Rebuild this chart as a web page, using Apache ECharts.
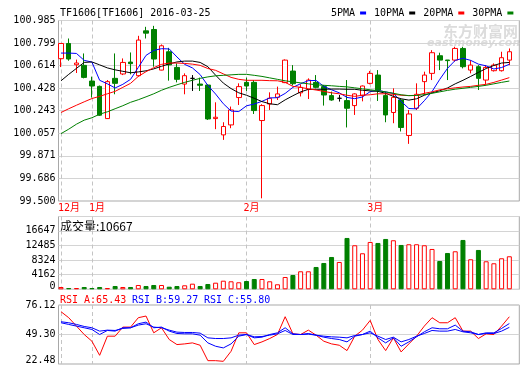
<!DOCTYPE html>
<html><head><meta charset="utf-8">
<script src="https://cdn.jsdelivr.net/npm/echarts@6/dist/echarts.min.js"></script>
<style>html,body{margin:0;padding:0;background:#fff}#c{width:520px;height:365px}</style>
</head><body><div id="c"></div>
<script>
// ---- data ----
const dates = ['2015-12-28','2015-12-29','2015-12-30','2015-12-31',
 '2016-01-04','2016-01-05','2016-01-06','2016-01-07','2016-01-08','2016-01-11','2016-01-12','2016-01-13','2016-01-14','2016-01-15',
 '2016-01-18','2016-01-19','2016-01-20','2016-01-21','2016-01-22','2016-01-25','2016-01-26','2016-01-27','2016-01-28','2016-01-29',
 '2016-02-01','2016-02-02','2016-02-03','2016-02-04','2016-02-05','2016-02-15','2016-02-16','2016-02-17','2016-02-18','2016-02-19',
 '2016-02-22','2016-02-23','2016-02-24','2016-02-25','2016-02-26','2016-02-29',
 '2016-03-01','2016-03-02','2016-03-03','2016-03-04','2016-03-07','2016-03-08','2016-03-09','2016-03-10','2016-03-11',
 '2016-03-14','2016-03-15','2016-03-16','2016-03-17','2016-03-18','2016-03-21','2016-03-22','2016-03-23','2016-03-24','2016-03-25'];
const open  = [100.671,100.796,100.621,100.616,100.487,100.443,100.178,100.509,100.545,100.643,100.531,100.900,100.911,100.577,100.728,100.599,100.462,100.509,100.462,100.454,100.178,100.044,100.126,100.351,100.476,100.476,100.162,100.298,100.353,100.474,100.569,100.390,100.419,100.476,100.441,100.367,100.345,100.326,100.285,100.370,100.468,100.536,100.367,100.228,100.331,100.039,100.263,100.482,100.550,100.695,100.660,100.659,100.755,100.577,100.605,100.495,100.572,100.572,100.659];
const close = [100.796,100.668,100.635,100.517,100.446,100.206,100.482,100.468,100.640,100.630,100.824,100.881,100.668,100.777,100.620,100.501,100.531,100.509,100.452,100.175,100.189,100.113,100.249,100.441,100.446,100.244,100.285,100.345,100.381,100.659,100.465,100.435,100.495,100.435,100.372,100.331,100.345,100.263,100.381,100.446,100.550,100.413,100.208,100.353,100.105,100.216,100.378,100.536,100.720,100.659,100.655,100.755,100.605,100.618,100.509,100.599,100.618,100.679,100.728];
const low   = [100.602,100.654,100.553,100.509,100.351,100.200,100.175,100.378,100.536,100.542,100.523,100.837,100.605,100.575,100.490,100.476,100.378,100.405,100.405,100.167,100.091,100.003,100.099,100.290,100.405,100.216,99.522,100.249,100.331,100.470,100.450,100.360,100.339,100.427,100.285,100.325,100.318,100.105,100.208,100.320,100.460,100.323,100.148,100.140,100.072,99.970,100.249,100.372,100.495,100.577,100.495,100.646,100.591,100.550,100.413,100.462,100.565,100.565,100.618];
const high  = [100.796,100.837,100.663,100.714,100.523,100.450,100.495,100.714,100.673,100.722,100.859,100.933,100.941,100.788,100.760,100.632,100.550,100.536,100.515,100.460,100.312,100.148,100.277,100.468,100.515,100.495,100.296,100.394,100.441,100.665,100.618,100.460,100.509,100.536,100.454,100.400,100.372,100.495,100.386,100.450,100.570,100.577,100.400,100.427,100.340,100.249,100.468,100.564,100.741,100.720,100.660,100.769,100.769,100.659,100.618,100.618,100.632,100.728,100.755];
const ma5  = [100.717,100.717,100.714,100.657,100.643,100.493,100.464,100.430,100.460,100.501,100.599,100.698,100.739,100.753,100.751,100.685,100.624,100.595,100.540,100.450,100.380,100.300,100.240,100.236,100.283,100.298,100.320,100.348,100.350,100.385,100.435,100.465,100.490,100.492,100.443,100.415,100.390,100.352,100.342,100.356,100.400,100.411,100.397,100.385,100.320,100.261,100.258,100.325,100.400,100.501,100.591,100.657,100.674,100.657,100.626,100.612,100.586,100.598,100.625];
const ma10 = [100.489,100.542,100.591,100.640,100.644,100.620,100.595,100.579,100.567,100.555,100.562,100.571,100.587,100.608,100.628,100.644,100.651,100.651,100.640,100.605,100.535,100.470,100.425,100.390,100.370,100.345,100.318,100.300,100.292,100.332,100.366,100.398,100.418,100.419,100.419,100.421,100.421,100.419,100.419,100.411,100.406,100.402,100.386,100.361,100.341,100.330,100.341,100.370,100.390,100.407,100.430,100.464,100.493,100.525,100.558,100.590,100.615,100.635,100.640];
const ma20 = [100.228,100.259,100.288,100.316,100.343,100.361,100.382,100.402,100.435,100.468,100.525,100.564,100.597,100.624,100.635,100.635,100.632,100.626,100.616,100.590,100.575,100.546,100.517,100.501,100.493,100.493,100.493,100.490,100.489,100.476,100.443,100.435,100.423,100.413,100.402,100.390,100.382,100.370,100.361,100.370,100.374,100.382,100.382,100.378,100.370,100.367,100.370,100.386,100.398,100.415,100.423,100.431,100.438,100.443,100.452,100.460,100.476,100.495,100.515];
const ma30 = [100.054,100.091,100.132,100.165,100.185,100.214,100.234,100.259,100.284,100.312,100.333,100.357,100.382,100.411,100.435,100.456,100.476,100.493,100.509,100.521,100.530,100.534,100.538,100.542,100.542,100.534,100.525,100.513,100.501,100.489,100.480,100.472,100.464,100.456,100.452,100.448,100.443,100.439,100.431,100.423,100.415,100.407,100.398,100.386,100.374,100.367,100.368,100.375,100.386,100.398,100.410,100.420,100.427,100.435,100.443,100.452,100.464,100.476,100.487];
const volume = [656,370,370,656,370,656,370,940,656,656,1225,940,1225,1225,740,940,1140,1600,940,1510,1880,2450,2280,2000,2365,2935,2935,2280,1425,3505,4075,5130,5130,6355,7495,9205,7780,14620,12540,10260,13480,13195,14335,13965,12625,12825,12825,12540,11485,8065,10345,10830,14050,8550,11200,7980,7410,8835,9405];
const rsiA = [70.05,64.56,56.93,49.30,43.20,30.39,47.78,47.78,56.02,56.02,64.56,66.09,50.83,55.41,44.73,40.15,40.76,41.68,39.54,25.51,25.51,24.90,34.05,50.83,50.83,40.15,42.59,45.64,49.30,65.48,49.92,49.30,53.27,48.69,43.20,40.76,39.54,34.66,47.78,53.27,62.12,44.73,34.66,46.25,33.44,40.76,47.78,56.93,64.56,59.98,59.98,64.56,52.36,52.36,45.64,49.92,49.30,56.93,65.43];
const rsiB = [59.98,58.46,56.93,55.41,53.88,49.30,52.97,52.36,55.41,55.41,59.07,60.59,55.41,56.02,52.36,50.22,49.92,49.92,48.69,41.68,38.63,37.10,40.76,47.78,49.30,46.25,46.86,49.30,50.83,55.41,49.92,49.30,50.22,48.69,46.86,45.64,44.73,42.59,47.78,49.30,52.36,46.25,41.68,46.25,38.63,42.59,47.17,51.75,55.41,54.49,54.49,57.85,52.36,51.75,49.30,50.83,50.83,54.80,59.27];
const rsiC = [60.90,59.98,58.46,56.63,55.41,52.36,53.27,52.97,54.80,55.41,57.85,59.07,56.02,55.41,53.27,51.44,51.14,51.14,50.53,46.25,45.64,45.64,46.25,48.69,49.30,47.17,47.47,48.69,49.92,52.97,49.30,49.30,49.61,48.69,47.78,47.17,46.86,46.25,48.39,49.30,50.83,47.78,44.73,46.86,42.59,44.73,47.78,50.22,52.97,52.36,52.36,53.88,51.75,50.83,49.30,50.22,50.22,52.36,55.80];
const monthTicks  = [0, 4, 24, 40];
const monthLabels = ['12月', '1月', '2月', '3月'];
const priceTicks = ['99.500','99.686','99.871','100.057','100.243','100.428','100.614','100.799','100.985'];
const volTicks   = ['0','4162','8324','12485','16647'];
const rsiTicks   = ['22.48','49.30','76.12'];
const maNames = ['5PMA','10PMA','20PMA','30PMA'];
const maColors = ['#0000ff','#000000','#ff0000','#008000'];

// ---- chart ----
const MONO = '"DejaVu Sans Mono","Noto Sans CJK SC",monospace';
const RED = '#ff0000', GREEN = '#008000', BLUE = '#0000ff';
const xMin = -0.3234, xMax = 59.289;
const pair = arr => arr.map((v, i) => [i, v]);
const ohlc = dates.map((d, i) => [i, open[i], close[i], low[i], high[i]]);
const volData = volume.map((v, i) => {
  const up = close[i] >= open[i];
  return {value: [i, v], itemStyle: {color: up ? '#fff' : GREEN, borderColor: up ? RED : GREEN, borderWidth: 1}};
});
const gridBox = [
  {left: 58.5, width: 460.8, top: 20.5, height: 180.5},
  {left: 58.5, width: 460.8, top: 216.5, height: 72.8},
  {left: 58.5, width: 460.8, top: 305, height: 59.3}
];
const lbl = {fontFamily: MONO, fontSize: 10, color: '#000', margin: 3};
// raiseMin: lift the bottom label a little so it stays inside its panel, as in the reference
const yAx = (k, min, max, interval, ticks, raiseMin) => ({
  type: 'value', gridIndex: k, min, max, interval, scale: true,
  axisLine: {show: false}, axisTick: {show: false},
  axisLabel: Object.assign({}, lbl, {
    formatter: (v, i) => {
      const t = ticks[i] !== undefined ? ticks[i] : '';
      return (i === 0 && raiseMin && t) ? '{m|' + t + '}' : t;
    },
    rich: {m: {fontFamily: MONO, fontSize: 10, color: '#000', padding: [0, 0, raiseMin || 0, 0]}}
  }),
  splitLine: {show: true, lineStyle: {color: '#d4d4d4', width: 1}}
});
const xAx = k => ({
  type: 'value', gridIndex: k, min: xMin, max: xMax,
  axisLine: {show: false},
  axisTick: {show: false, customValues: monthTicks},
  axisLabel: k === 0 ? {show: true, customValues: monthTicks, color: RED, fontFamily: MONO, fontSize: 10, align: 'left', margin: 2,
     padding: [0, 0, 0, -3],
     formatter: v => monthLabels[monthTicks.indexOf(Math.round(v))] || ''} : {show: false, customValues: monthTicks},
  splitLine: {show: true, lineStyle: {color: '#c4c4c4', type: [4, 3], width: 1}}
});

const option = {
  animation: false,
  backgroundColor: '#fff',
  title: {text: 'TF1606[TF1606] 2016-03-25', left: 60, top: 8, padding: 0,
    textStyle: {fontFamily: MONO, fontSize: 10, fontWeight: 'normal', color: '#000'}},
  legend: {data: maNames, left: 331, top: 8, padding: 0, align: 'right', icon: 'rect',
    itemWidth: 6, itemHeight: 3, itemGap: 8, selectedMode: false,
    textStyle: {fontFamily: MONO, fontSize: 10, color: '#000', padding: [0, 0, 0, 0]}},
  grid: gridBox.map(g => Object.assign({show: true, borderColor: '#a8a8a8', borderWidth: 1, backgroundColor: 'transparent'}, g)),
  xAxis: [xAx(0), xAx(1), xAx(2)],
  yAxis: [
    yAx(0, 99.5, 100.985, 0.185625, priceTicks, 0),
    yAx(1, 0, 20730, 4161.75, volTicks, 5),
    yAx(2, 22.48, 76.12, 26.82, rsiTicks, 8)
  ],
  graphic: [
    {type: 'text', x: 60, y: 226, style: {text: '成交量:10667', fill: '#000', font: '12px "Noto Sans CJK SC", sans-serif', verticalAlign: 'middle'}},
    {type: 'text', x: 60, y: 300, style: {text: 'RSI_A:65.43', fill: RED, font: '10px ' + MONO, verticalAlign: 'middle'}},
    {type: 'text', x: 132, y: 300, style: {text: 'RSI_B:59.27', fill: BLUE, font: '10px ' + MONO, verticalAlign: 'middle'}},
    {type: 'text', x: 204, y: 300, style: {text: 'RSI_C:55.80', fill: BLUE, font: '10px ' + MONO, verticalAlign: 'middle'}},
    {type: 'text', x: 443, y: 31, z: -10, style: {text: '东方财富网', fill: '#dcdcdc', font: 'bold 15px "Noto Sans CJK SC", sans-serif', verticalAlign: 'middle'}},
    {type: 'text', x: 427, y: 43, z: -10, style: {text: 'eastmoney.com', fill: '#dcdcdc', font: 'italic bold 11px "DejaVu Sans", sans-serif', verticalAlign: 'middle'}}
  ],
  series: [
    {type: 'candlestick', name: 'K', xAxisIndex: 0, yAxisIndex: 0, data: ohlc, encode: {x: 0, y: [1, 2, 3, 4]},
     barWidth: 5, clip: false,
     itemStyle: {color: '#fff', color0: GREEN, borderColor: RED, borderColor0: GREEN, borderColorDoji: '#000', borderWidth: 1}},
  ].concat([ma5, ma10, ma20, ma30].map((arr, k) => ({
    type: 'line', name: maNames[k], xAxisIndex: 0, yAxisIndex: 0, data: pair(arr),
    showSymbol: false, symbol: 'none', color: maColors[k], lineStyle: {width: 1, color: maColors[k]}, z: 3
  }))).concat([
    {type: 'bar', name: 'VOL', xAxisIndex: 1, yAxisIndex: 1, data: volData, barWidth: 5},
    {type: 'line', name: 'RSI_A', xAxisIndex: 2, yAxisIndex: 2, data: pair(rsiA), symbol: 'none', lineStyle: {width: 1, color: RED}},
    {type: 'line', name: 'RSI_B', xAxisIndex: 2, yAxisIndex: 2, data: pair(rsiB), symbol: 'none', lineStyle: {width: 1, color: BLUE}},
    {type: 'line', name: 'RSI_C', xAxisIndex: 2, yAxisIndex: 2, data: pair(rsiC), symbol: 'none', lineStyle: {width: 1, color: BLUE}}
  ])
};
const chart = echarts.init(document.getElementById('c'), null, {renderer: 'canvas'});
chart.setOption(option);
</script></body></html>
